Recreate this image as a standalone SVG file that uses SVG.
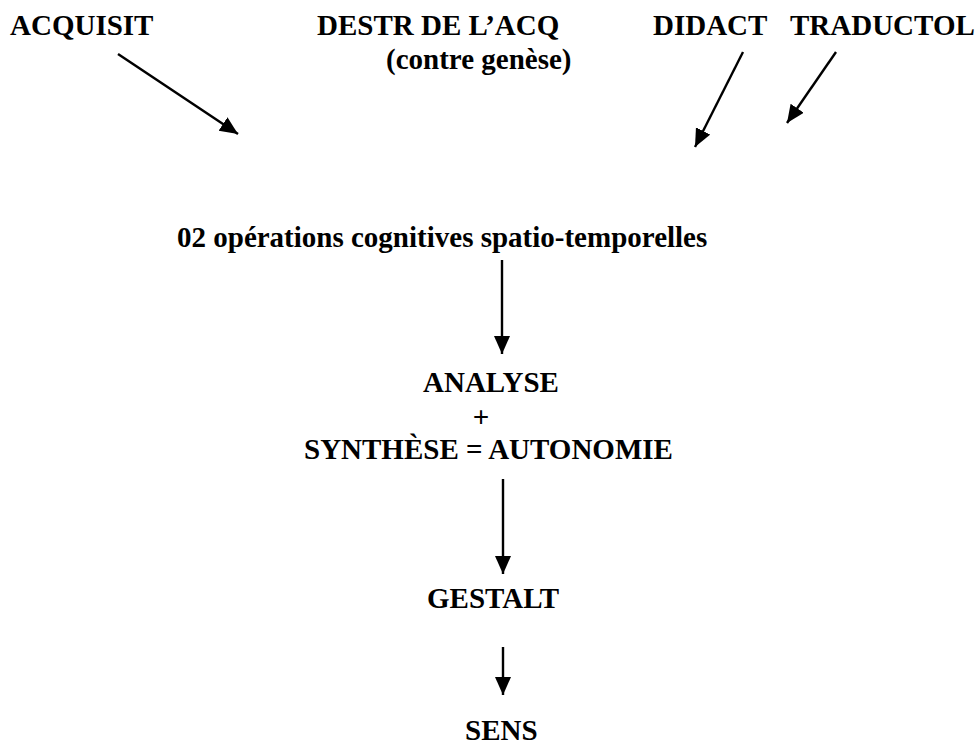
<svg xmlns="http://www.w3.org/2000/svg" width="978" height="747" viewBox="0 0 978 747">
  <style>
    text { font-family: "Liberation Serif", "Times New Roman", serif; font-weight: bold; font-size: 29px; fill: #000; }
    .conn line { stroke: #000; stroke-width: 2.4; }
  </style>
  <defs>
    <marker id="ah" markerUnits="userSpaceOnUse" markerWidth="20" markerHeight="18" refX="18" refY="8" orient="auto">
      <path d="M0,0 L18,8 L0,16 Z" fill="#000"/>
    </marker>
  </defs>
  <rect width="978" height="747" fill="#fff"/>
  <g id="acquisit"><text x="10" y="35">ACQUISIT</text></g>
  <g id="destr"><text x="317" y="35">DESTR DE L’ACQ</text><text x="386" y="69">(contre genèse)</text></g>
  <g id="didact"><text x="653" y="35">DIDACT</text></g>
  <g id="traductol"><text x="790" y="35">TRADUCTOL</text></g>
  <g id="operations"><text x="177" y="247">02 opérations cognitives spatio-temporelles</text></g>
  <g id="analyse">
    <text x="423" y="392">ANALYSE</text>
    <text x="481" y="427" text-anchor="middle">+</text>
    <text x="304" y="459">SYNTHÈSE = AUTONOMIE</text>
  </g>
  <g id="gestalt"><text x="427" y="608">GESTALT</text></g>
  <g id="sens"><text x="465" y="740">SENS</text></g>
  <g class="conn" id="connectors">
    <line x1="118" y1="54" x2="238" y2="134" marker-end="url(#ah)"/>
    <line x1="743" y1="52" x2="695" y2="147" marker-end="url(#ah)"/>
    <line x1="836" y1="52" x2="787" y2="123" marker-end="url(#ah)"/>
    <line x1="502" y1="260" x2="502" y2="354" marker-end="url(#ah)"/>
    <line x1="503" y1="479" x2="503" y2="574" marker-end="url(#ah)"/>
    <line x1="503" y1="647" x2="503" y2="695" marker-end="url(#ah)"/>
  </g>
</svg>
